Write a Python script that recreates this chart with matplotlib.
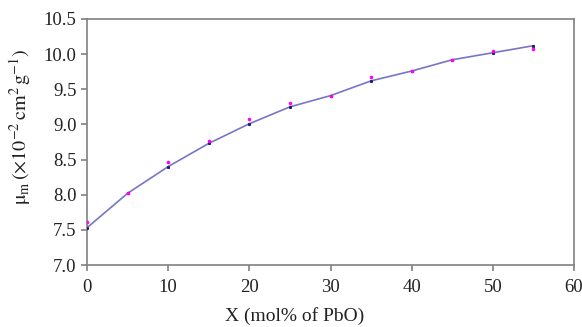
import matplotlib
matplotlib.use('Agg')
import matplotlib.pyplot as plt
import numpy as np

plt.rcParams['font.family'] = 'Liberation Serif'
plt.rcParams['mathtext.fontset'] = 'stix'

# mol% of PbO
x_values = [0, 5, 10, 15, 20, 25, 30, 35, 40, 45, 50, 55]
# measured mass attenuation coefficient
mu_measured = [7.61, 8.03, 8.47, 8.76, 9.08, 9.31, 9.40, 9.68, 9.76, 9.92, 10.05, 10.07]
# calculated curve
mu_fit = [7.53, 8.02, 8.40, 8.73, 9.01, 9.25, 9.41, 9.62, 9.76, 9.92, 10.02, 10.12]

fig = plt.figure(figsize=(5.82, 3.27), dpi=100)
ax = fig.add_axes([0.1495, 0.1896, 0.8368, 0.7523])

ax.plot(x_values, mu_fit, '-', color='#7676c6', linewidth=1.2, zorder=2)
ax.plot(x_values, mu_fit, 's', color='#20206a', markersize=1.2, zorder=3)
ax.plot(x_values, mu_measured, 'o', color='#ff00ff', markersize=2.6,
        markeredgewidth=0, zorder=4)

ax.set_xlim(0, 60)
ax.set_ylim(7.0, 10.5)
ax.set_xticks(np.arange(0, 61, 10))
ax.set_yticks(np.arange(7.0, 10.51, 0.5))
ax.yaxis.set_major_formatter(matplotlib.ticker.FormatStrFormatter('%.1f'))

for s in ax.spines.values():
    s.set_color('#808080')
    s.set_linewidth(1.2)
ax.tick_params(direction='out', length=4, width=1.2, color='#808080',
               labelsize=13.5, labelcolor='#222222')
ax.tick_params(axis='x', pad=6)

ax.set_xlabel('X (mol% of PbO)', fontsize=14, color='#222222')
ax.xaxis.set_label_coords(0.426, -0.17)
ax.set_ylabel(r'$\mathrm{\mu_m}\,(\times10^{-2}\,\mathrm{cm}^2\,\mathrm{g}^{-1})$',
              fontsize=14.5, color='#222222')
ax.yaxis.set_label_coords(-0.111, 0.56)

plt.savefig('out.png', dpi=100)
